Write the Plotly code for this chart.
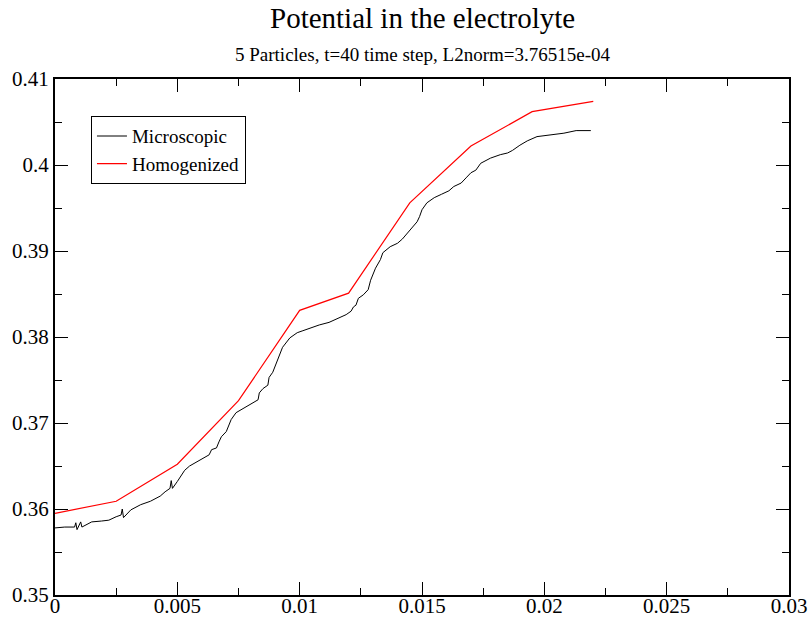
import plotly.graph_objects as go

# Microscopic (black) curve
micro_x = [0.0, 0.0004, 0.0008, 0.00085, 0.0009, 0.0010, 0.00105, 0.0011, 0.0015, 0.0019, 0.0022,
           0.0025, 0.0027, 0.00275, 0.0028, 0.0031, 0.0035, 0.0039, 0.0043, 0.0045, 0.0047,
           0.00475, 0.0048, 0.0050, 0.0052, 0.0053, 0.0055, 0.0058, 0.0061, 0.0063, 0.0064,
           0.0066, 0.0067, 0.0068, 0.0070, 0.0071, 0.0072, 0.0074, 0.0077, 0.0080, 0.0083,
           0.00835, 0.0085, 0.0087, 0.00875, 0.0089, 0.0092, 0.0093, 0.0096, 0.0099, 0.0101,
           0.0104, 0.0108, 0.0112, 0.0116, 0.0119, 0.0121, 0.0122, 0.0123, 0.0124, 0.0126,
           0.0128, 0.0129, 0.0131, 0.0133, 0.0134, 0.0137, 0.0140, 0.0142, 0.0144, 0.0146,
           0.0148, 0.0149, 0.0150, 0.0152, 0.0155, 0.0158, 0.0161, 0.0163, 0.0166, 0.0168,
           0.0170, 0.0172, 0.0174, 0.0178, 0.0182, 0.0185, 0.0187, 0.0190, 0.0193, 0.0197,
           0.0202, 0.0208, 0.0213, 0.0219]
micro_y = [0.3578, 0.3579, 0.3579, 0.3584, 0.3576, 0.3581, 0.3585, 0.3579, 0.3585, 0.3586, 0.3587,
           0.3591, 0.3593, 0.3600, 0.3590, 0.3599, 0.3605, 0.3609, 0.3615, 0.3620, 0.3624,
           0.3633, 0.3624, 0.3632, 0.3640, 0.3645, 0.3650, 0.3655, 0.3659, 0.3663, 0.3669,
           0.3671, 0.3678, 0.3684, 0.3690, 0.3697, 0.3704, 0.3712, 0.3717, 0.3721, 0.3727,
           0.3735, 0.3740, 0.3744, 0.3753, 0.3759, 0.3781, 0.3788, 0.3799, 0.3805, 0.3807,
           0.3810, 0.3814, 0.3817, 0.3822, 0.3826, 0.3830, 0.3835, 0.3837, 0.3845, 0.3849,
           0.3855, 0.3866, 0.3880, 0.3890, 0.3898, 0.3905, 0.3909, 0.3914, 0.3921, 0.3927,
           0.3934, 0.3940, 0.3948, 0.3956, 0.3962, 0.3966, 0.3970, 0.3975, 0.3979, 0.3985,
           0.3991, 0.3994, 0.4002, 0.4008, 0.4012, 0.4014, 0.4017, 0.4023, 0.4028, 0.4033,
           0.4035, 0.4037, 0.4040, 0.4040]

# Homogenized (red) curve
homog_x = [0.0, 0.0025, 0.005, 0.0075, 0.010, 0.012, 0.0145, 0.017, 0.0195, 0.022]
homog_y = [0.3595, 0.3609, 0.3652, 0.3726, 0.3831, 0.3851, 0.3956, 0.4022, 0.4062, 0.4074]

x_ticks = [0, 0.005, 0.01, 0.015, 0.02, 0.025, 0.03]
x_labels = ["0", "0.005", "0.01", "0.015", "0.02", "0.025", "0.03"]
y_ticks = [0.35, 0.36, 0.37, 0.38, 0.39, 0.40, 0.41]
y_labels = ["0.35", "0.36", "0.37", "0.38", "0.39", "0.4", "0.41"]

title = "Potential in the electrolyte"
subtitle = "5 Particles, t=40 time step, L2norm=3.76515e-04"

FONT = "Times New Roman, Times, Liberation Serif, DejaVu Serif, Noto Serif, serif"

fig = go.Figure()
fig.add_trace(go.Scatter(x=micro_x, y=micro_y, mode="lines", name="Microscopic",
                         line=dict(color="black", width=1)))
fig.add_trace(go.Scatter(x=homog_x, y=homog_y, mode="lines", name="Homogenized",
                         line=dict(color="#ff0000", width=1.2)))

axis_common = dict(
    showgrid=False, zeroline=False, showline=True, linecolor="black", linewidth=2,
    mirror="allticks", ticks="inside", ticklen=13, tickwidth=1, tickcolor="black",
    tickfont=dict(family=FONT, size=21, color="black"), automargin=False,
)

fig.update_xaxes(range=[0, 0.03], tickvals=x_ticks, ticktext=x_labels, ticklabelstandoff=-9,
                 minor=dict(ticks="inside", ticklen=7, tickwidth=1, tickcolor="black", dtick=0.0025,
                            tick0=0, showgrid=False),
                 **axis_common)
fig.update_yaxes(range=[0.35, 0.41], tickvals=y_ticks, ticktext=y_labels,
                 minor=dict(ticks="inside", ticklen=7, tickwidth=1, tickcolor="black", dtick=0.005,
                            tick0=0.35, showgrid=False),
                 **axis_common)

plot_h = 621 - 79 - 26

fig.update_layout(
    width=808, height=621,
    margin=dict(l=55, r=19, t=79, b=26, autoexpand=False),
    paper_bgcolor="white", plot_bgcolor="white",
    font=dict(family=FONT, color="black"),
    showlegend=True,
    legend=dict(x=0.049, y=0.928, xanchor="left", yanchor="top",
                bordercolor="black", borderwidth=1, bgcolor="white",
                font=dict(family=FONT, size=19, color="black"),
                tracegroupgap=0, itemwidth=30),
    annotations=[
        dict(text=title, x=0.5, y=1 + (79 - 18) / plot_h, xref="paper", yref="paper",
             showarrow=False, yanchor="middle",
             font=dict(family=FONT, size=29, color="black")),
        dict(text=subtitle, x=0.5, y=1 + (79 - 55) / plot_h, xref="paper", yref="paper",
             showarrow=False, yanchor="middle",
             font=dict(family=FONT, size=19, color="black")),
    ],
)

fig.write_html("out.html")
